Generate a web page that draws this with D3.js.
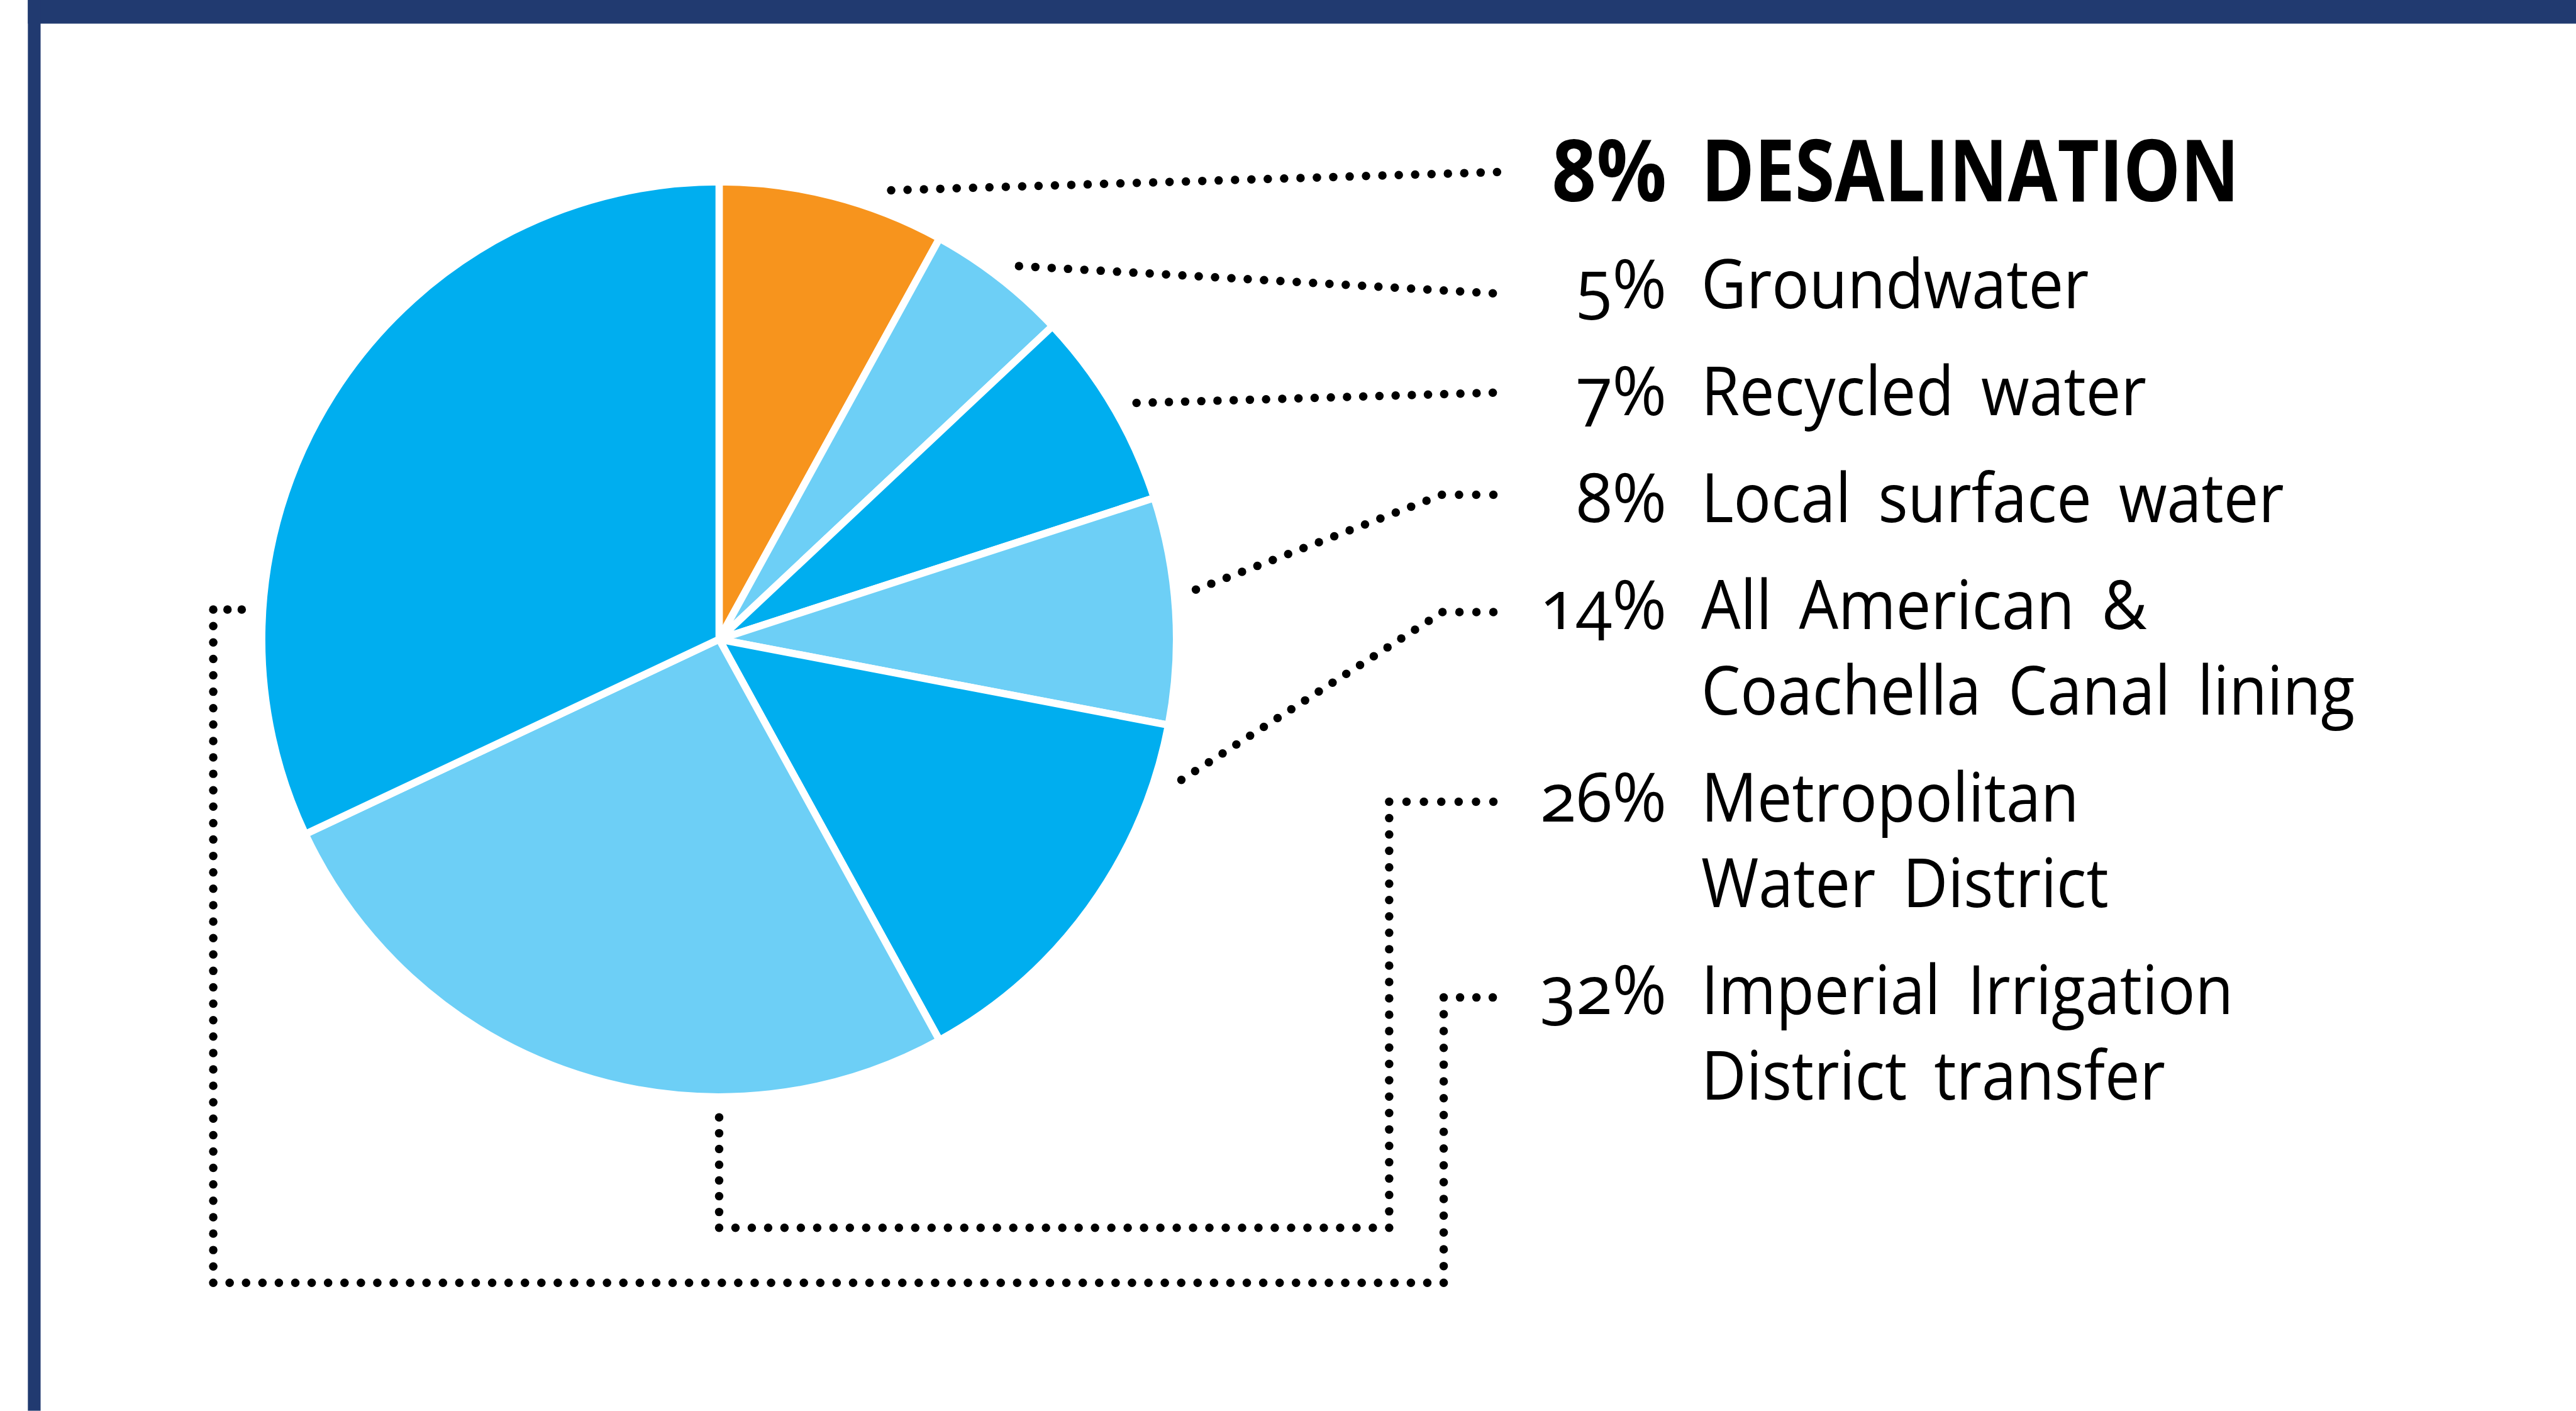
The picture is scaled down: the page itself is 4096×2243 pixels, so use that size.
<!DOCTYPE html>
<html><head><meta charset="utf-8">
<script src="https://cdn.jsdelivr.net/npm/d3@7"></script>
<style>html,body{margin:0;padding:0;background:#fff;overflow:hidden}</style>
</head><body><svg id="c" width="4096" height="2243"></svg>
<script>
// ---- data ----
const categories = ["Desalination","Groundwater","Recycled water","Local surface water","All American & Coachella Canal lining","Metropolitan Water District","Imperial Irrigation District transfer"];
const values = [8, 5, 7, 8, 14, 26, 32];
const labelLines = [["DESALINATION"],["Groundwater"],["Recycled water"],["Local surface water"],["All American &","Coachella Canal lining"],["Metropolitan","Water District"],["Imperial Irrigation","District transfer"]];
const highlight = [true, false, false, false, false, false, false];
const sliceColors = ["#F7941D","#6DCFF6","#00AEEF","#6DCFF6","#00AEEF","#6DCFF6","#00AEEF"];

// ---- layout (reference pixel units) ----
const S = 4096 / 4252;
const CX = 1187, CY = 1055, R = 755;
const leaders = [
  [[1471,314],[2471,284]],
  [[1682,439],[2464,484]],
  [[1876,665],[2464,648]],
  [[1974,973],[2380,816.5],[2465,816.5]],
  [[1950,1287],[2381,1010],[2465,1010]],
  [[1187,1844],[1187,2026],[2293,2026],[2293,1323],[2465,1323]],
  [[399,1006],[352,1006],[352,2117],[2383,2117],[2383,1646],[2464,1646]]
];
const pctX = 2751, nameX = 2808, firstBase = 332, groupStep = 176.6, lineStep = 141;
const fontFam = "'Open Sans','Noto Sans',sans-serif";

const svg = d3.select("#c");
svg.append("rect").attr("width",4096).attr("height",2243).attr("fill","#fff");
const g = svg.append("g").attr("transform",`scale(${S})`);

// frame
g.append("rect").attr("x",46).attr("y",0).attr("width",4252-46).attr("height",39).attr("fill","#213A70");
g.append("rect").attr("x",46).attr("y",0).attr("width",21).attr("height",2328).attr("fill","#213A70");

// pie
const pie = d3.pie().sort(null).value(d => d);
const arc = d3.arc().innerRadius(0).outerRadius(R);
g.append("g").attr("transform",`translate(${CX},${CY})`)
  .selectAll("path").data(pie(values)).join("path")
  .attr("d", arc)
  .attr("fill", (d,i) => sliceColors[i])
  .attr("stroke","#fff").attr("stroke-width",12).attr("stroke-linejoin","round");

// dotted leaders
const dotG = g.append("g").attr("fill","#000");
leaders.forEach(pts => {
  const dots = [];
  for (let s = 0; s < pts.length - 1; s++) {
    const [x0,y0] = pts[s], [x1,y1] = pts[s+1];
    const L = Math.hypot(x1-x0, y1-y0);
    const n = Math.max(1, Math.round(L / 27));
    for (let k = (s === 0 ? 0 : 1); k <= n; k++) {
      dots.push([x0 + (x1-x0)*k/n, y0 + (y1-y0)*k/n]);
    }
  }
  dotG.selectAll(null).data(dots).join("circle")
    .attr("cx", d => d[0]).attr("cy", d => d[1]).attr("r", 7);
});

// measure for horizontal condensation
function measure(txt, size, weight) {
  const t = g.append("text").attr("font-family",fontFam).attr("font-size",size).attr("font-weight",weight).text(txt);
  const w = t.node().getBBox().width; t.remove(); return w;
}
const regSize = 112, boldSize = 142;
const sxReg = 640 / measure("Groundwater", regSize, 400);
const sxBold = 888 / measure("DESALINATION", boldSize, 700);

// labels
const textG = g.append("g").attr("font-family",fontFam).attr("fill","#000")
  .style("font-variant-numeric","oldstyle-nums");
let extra = 0;
labelLines.forEach((lines, i) => {
  const base = firstBase + groupStep * i + lineStep * extra;
  const bold = highlight[i];
  const size = bold ? boldSize : regSize;
  const sx = bold ? sxBold : sxReg;
  const w = bold ? 700 : 400;
  textG.append("text")
    .attr("transform",`translate(${pctX},${base}) scale(${sx * (bold ? 1.08 : 1.06)},1)`)
    .attr("text-anchor","end").attr("font-size",size).attr("font-weight",w)
    .text(values[i] + "%");
  lines.forEach((ln, j) => {
    textG.append("text")
      .attr("transform",`translate(${nameX},${base + j*lineStep}) scale(${sx},1)`)
      .attr("font-size",size).attr("font-weight",w)
      .attr("word-spacing", bold ? 0 : 18 / sx)
      .text(ln);
  });
  extra += lines.length - 1;
});
</script>
</body></html>
